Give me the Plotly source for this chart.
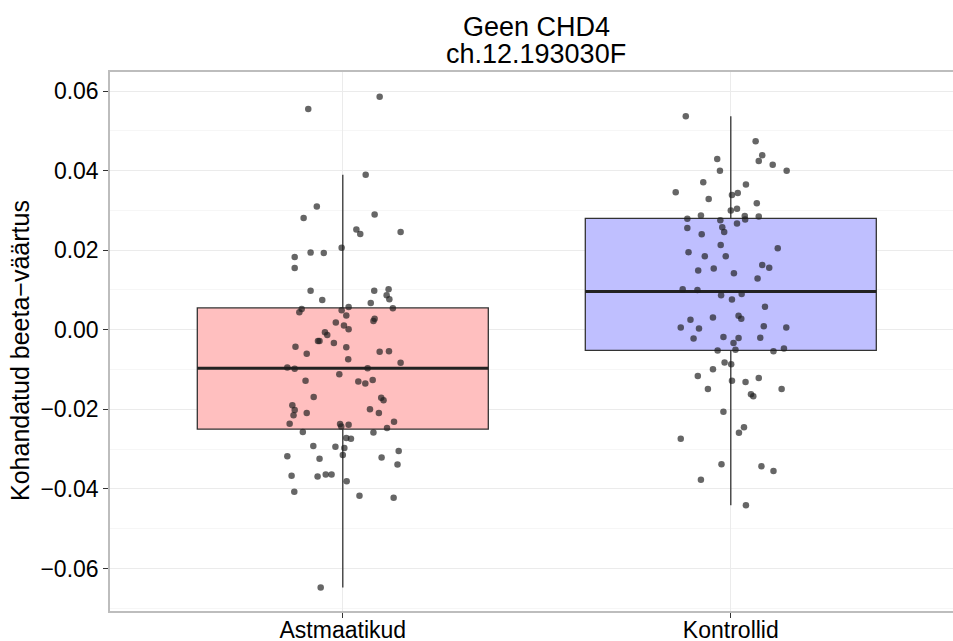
import plotly.graph_objects as go

# ---------------- data ----------------
categories = ["Astmaatikud", "Kontrollid"]
title_lines = ["Geen CHD4", "ch.12.193030F"]
y_title = "Kohandatud beeta\u2212väärtus"

# precomputed box statistics
box_q1 = [-0.0250, -0.0052]
box_median = [-0.0097, 0.0096]
box_q3 = [0.0055, 0.0280]
box_lower = [-0.0648, -0.0441]
box_upper = [0.0390, 0.0537]

# jittered observations: value and horizontal jitter offset (category units)
ast_values = [0.0555, 0.0586, 0.0390, 0.0310, 0.0281, 0.0290, 0.0252, 0.0241, 0.0246, 0.0206,
              0.0183, 0.0194, 0.0193, 0.0155, 0.0098, 0.0075, 0.0098, 0.0102, 0.0067, 0.0087,
              0.0077, 0.0054, 0.0057, 0.0049, 0.0052, 0.0044, 0.0036, 0.0028, 0.0022, 0.0018,
              0.0011, 0.0001, -0.0006, -0.0013, -0.0028, -0.0028, -0.0043, -0.0033, -0.0044, -0.0060,
              -0.0074, -0.0055, -0.0054, -0.0083, -0.0095, -0.0098, -0.0097, -0.0112, -0.0128, -0.0130,
              -0.0135, -0.0126, -0.0169, -0.0171, -0.0177, -0.0190, -0.0202, -0.0215, -0.0209, -0.0200,
              -0.0209, -0.0236, -0.0237, -0.0243, -0.0239, -0.0231, -0.0247, -0.0257, -0.0258, -0.0272,
              -0.0274, -0.0292, -0.0294, -0.0297, -0.0315, -0.0318, -0.0324, -0.0321, -0.0305, -0.0339,
              -0.0367, -0.0369, -0.0364, -0.0364, -0.0381, -0.0407, -0.0417, -0.0422, -0.0648]
ast_jitter = [-0.089, 0.095, 0.059, -0.067, -0.101, 0.082, 0.035, 0.045, 0.149, -0.003,
              -0.124, -0.083, -0.049, -0.124, -0.083, -0.053, 0.081, 0.118, 0.072, 0.113,
              0.120, 0.129, 0.015, -0.003, -0.106, -0.112, 0.009, 0.082, 0.079, -0.018,
              0.003, 0.015, -0.046, -0.040, -0.064, -0.060, -0.122, -0.023, 0.009, -0.093,
              0.014, 0.095, 0.119, 0.149, -0.143, -0.124, 0.064, -0.009, -0.096, 0.040,
              0.058, 0.077, -0.075, 0.099, 0.105, -0.130, -0.124, -0.127, -0.093, 0.070,
              0.093, -0.137, -0.007, -0.004, 0.015, 0.132, 0.114, -0.103, 0.079, 0.009,
              0.021, -0.076, -0.019, 0.004, 0.000, -0.143, -0.060, 0.100, 0.144, 0.141,
              -0.132, -0.065, -0.044, -0.029, 0.010, -0.125, 0.043, 0.131, -0.057]

kon_values = [0.0537, 0.0474, 0.0439, 0.0424, 0.0415, 0.0400, 0.0429, 0.0400, 0.0371, 0.0346,
              0.0329, 0.0365, 0.0339, 0.0344, 0.0318, 0.0300, 0.0304, 0.0287, 0.0279, 0.0286,
              0.0277, 0.0285, 0.0275, 0.0258, 0.0246, 0.0256, 0.0240, 0.0267, 0.0213, 0.0205,
              0.0195, 0.0185, 0.0185, 0.0163, 0.0156, 0.0154, 0.0149, 0.0142, 0.0129, 0.0102,
              0.0100, 0.0087, 0.0090, 0.0076, 0.0058, 0.0025, 0.0031, 0.0035, 0.0028, 0.0006,
              0.0003, 0.0009, 0.0006, -0.0022, -0.0018, -0.0021, -0.0020, -0.0033, -0.0052, -0.0050,
              -0.0054, -0.0047, -0.0082, -0.0087, -0.0099, -0.0116, -0.0128, -0.0131, -0.0121, -0.0149,
              -0.0162, -0.0167, -0.0149, -0.0206, -0.0245, -0.0259, -0.0274, -0.0338, -0.0343, -0.0355,
              -0.0377, -0.0441]
kon_jitter = [-0.116, 0.064, 0.081, 0.072, 0.108, 0.144, -0.035, -0.028, -0.071, -0.142,
              -0.057, 0.039, 0.003, 0.018, 0.067, 0.000, 0.016, -0.077, -0.112, 0.036,
              0.037, 0.072, -0.027, -0.022, -0.017, -0.112, -0.075, 0.016, -0.026, 0.121,
              -0.109, -0.067, -0.013, 0.081, 0.099, -0.044, -0.084, 0.008, 0.069, -0.124,
              -0.086, -0.025, 0.028, 0.003, 0.088, -0.104, -0.046, 0.020, 0.027, -0.129,
              -0.082, 0.085, 0.143, -0.096, -0.019, 0.020, 0.076, 0.007, -0.034, 0.012,
              0.110, 0.137, -0.016, 0.001, -0.046, -0.085, 0.003, 0.038, 0.072, -0.059,
              0.052, 0.058, 0.131, -0.019, 0.034, 0.021, -0.129, -0.024, 0.079, 0.110,
              -0.077, 0.039]

y_ticks = [-0.06, -0.04, -0.02, 0.00, 0.02, 0.04, 0.06]

# ---------------- style ----------------
FONT = "Liberation Sans, Arial, Helvetica, sans-serif"
fills = ["rgb(255,191,191)", "rgb(191,191,255)"]
BOX_W = 0.75

fig = go.Figure()

positions = [1, 2]
for i, cat in enumerate(categories):
    fig.add_trace(go.Box(
        x=[positions[i]], q1=[box_q1[i]], median=[box_median[i]], q3=[box_q3[i]],
        lowerfence=[box_lower[i]], upperfence=[box_upper[i]],
        width=BOX_W, whiskerwidth=0, boxpoints=False,
        fillcolor=fills[i], line=dict(color="#333333", width=1.3),
        name=cat, showlegend=False, hoverinfo="skip"))
    fig.add_trace(go.Scatter(
        x=[positions[i] - BOX_W / 2, positions[i] + BOX_W / 2],
        y=[box_median[i], box_median[i]], mode="lines",
        line=dict(color="#222222", width=3), showlegend=False, hoverinfo="skip"))

for pos, vals, jit in [(1, ast_values, ast_jitter), (2, kon_values, kon_jitter)]:
    fig.add_trace(go.Scatter(
        x=[pos + j for j in jit], y=vals, mode="markers",
        marker=dict(color="rgba(30,30,30,0.68)", size=6.5, line=dict(width=0)),
        showlegend=False, hoverinfo="skip"))

W, H = 953, 641
L, R, T, B = 110, 0, 72, 30
plot_w = W - L - R
plot_h = H - T - B

fig.update_layout(
    width=W, height=H,
    margin=dict(l=L, r=R, t=T, b=B),
    paper_bgcolor="white", plot_bgcolor="white",
    font=dict(family=FONT, color="black"),
    xaxis=dict(range=[0.4, 0.4 + plot_w / 388.0], tickvals=positions, ticktext=categories,
               showgrid=True, gridcolor="#EBEBEB", gridwidth=1, zeroline=False,
               ticks="outside", ticklen=5, tickcolor="#333333",
               tickfont=dict(size=23, color="black"), ticklabelstandoff=-7,
               showline=True, linecolor="#BDBDBD", linewidth=1.5, mirror=True,
               automargin=False),
    yaxis=dict(range=[-0.0707, 0.0648], tickvals=y_ticks, tickformat=".2f",
               showgrid=True, gridcolor="#EBEBEB", gridwidth=1, zeroline=False,
               minor=dict(dtick=0.01, showgrid=True, gridcolor="#F6F6F6", gridwidth=1, tick0=0.0),
               ticks="outside", ticklen=5, tickcolor="#333333",
               tickfont=dict(size=23, color="black"),
               showline=True, linecolor="#BDBDBD", linewidth=1.5, mirror=True,
               automargin=False),
    annotations=[
        dict(text=y_title, textangle=-90,
             x=(20 - L) / plot_w, xref="paper", xanchor="center",
             y=(611 - 351) / plot_h, yref="paper", yanchor="middle",
             showarrow=False, font=dict(size=25, color="black")),
        dict(text=title_lines[0], x=(536 - L) / plot_w, xref="paper", xanchor="center",
             y=1 + (T - 27) / plot_h, yref="paper", yanchor="middle",
             showarrow=False, font=dict(size=27, color="black")),
        dict(text=title_lines[1], x=(536 - L) / plot_w, xref="paper", xanchor="center",
             y=1 + (T - 54) / plot_h, yref="paper", yanchor="middle",
             showarrow=False, font=dict(size=27, color="black")),
    ],
)

fig.write_html("out.html", config={"displayModeBar": False},
               post_script="document.body.style.margin='0';document.body.style.padding='0';")
